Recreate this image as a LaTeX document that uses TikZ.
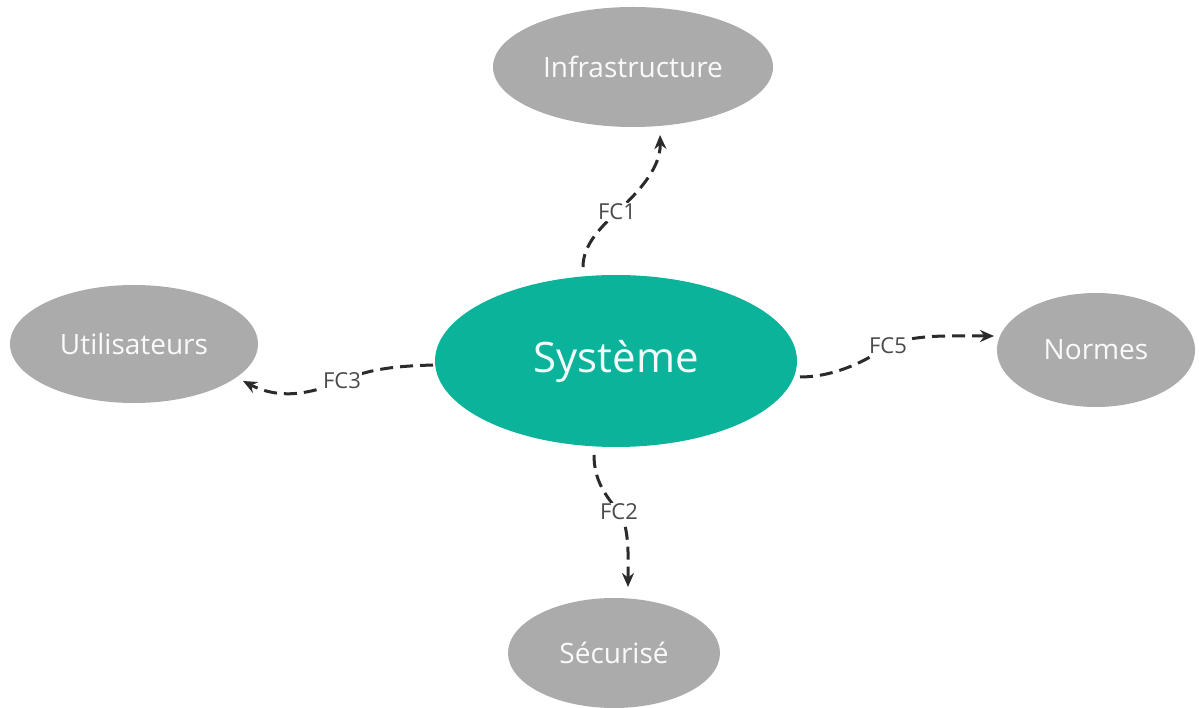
\documentclass[tikz,border=0pt]{standalone}
\usepackage{fontspec}
\setmainfont{Open Sans}
\usetikzlibrary{shapes.geometric,arrows.meta}
\definecolor{teal0}{HTML}{0AB39A}
\definecolor{gray0}{HTML}{ABABAB}
\definecolor{line0}{HTML}{2B2B2B}
\definecolor{lab0}{HTML}{4A4A4A}
\tikzset{
  bubble/.style={ellipse, fill=gray0, draw=none, inner sep=0pt, text=white!94!gray0, font=\fontsize{28}{32}\selectfont},
  core/.style={ellipse, fill=teal0, draw=none, inner sep=0pt, text=white!95!teal0, font=\fontsize{42}{48}\selectfont},
  conn/.style={line0, line width=3pt, dash pattern=on 13pt off 7pt, -{Stealth[length=14pt,width=12pt]}},
  flab/.style={fill=white, inner sep=1pt, text=lab0, font=\fontsize{22}{26}\selectfont}
}
\begin{document}
\begin{tikzpicture}[x=1pt,y=-1pt]
\useasboundingbox[fill=white] (0,0) rectangle (1199,708);
\node[core, minimum width=362pt, minimum height=172pt] (sys) at (616,361) {Système};
\node[bubble, minimum width=280pt, minimum height=120pt] (infra) at (633,67) {Infrastructure};
\node[bubble, minimum width=248pt, minimum height=118pt] (util) at (134,344) {Utilisateurs};
\node[bubble, minimum width=198pt, minimum height=114pt] (norm) at (1096,350) {Normes};
\node[bubble, minimum width=212pt, minimum height=110pt] (secu) at (614,653) {Sécurisé};
% label positions
\coordinate (p1) at (617,212);
\coordinate (p2) at (619,512);
\coordinate (p3) at (342,381);
\coordinate (p5) at (888,346);
% end points
\coordinate (s1) at (583,267);
\coordinate (e1) at (660,135);
\coordinate (s2) at (594,455);
\coordinate (e2) at (628,587);
\coordinate (s3) at (433,365);
\coordinate (e3) at (243,381);
\coordinate (s5) at (800,377);
\coordinate (e5) at (994,336);
% connectors
\draw[conn] (s1) .. controls (583,245) and (600,228) .. (p1) .. controls (634,196) and (661,170) .. (e1);
\draw[conn] (s2) .. controls (594,480) and (605,495) .. (p2) .. controls (630,527) and (628,560) .. (e2);
\draw[conn] (s3) .. controls (400,366) and (370,368) .. (p3) .. controls (310,394) and (280,400) .. (e3);
\draw[conn] (s5) .. controls (830,377) and (860,365) .. (p5) .. controls (912,334) and (950,336) .. (e5);
% labels
\node[flab] (l1) at (p1) {FC1};
\node[flab] (l2) at (p2) {FC2};
\node[flab] (l3) at (p3) {FC3};
\node[flab] (l5) at (p5) {FC5};
\end{tikzpicture}
\end{document}
